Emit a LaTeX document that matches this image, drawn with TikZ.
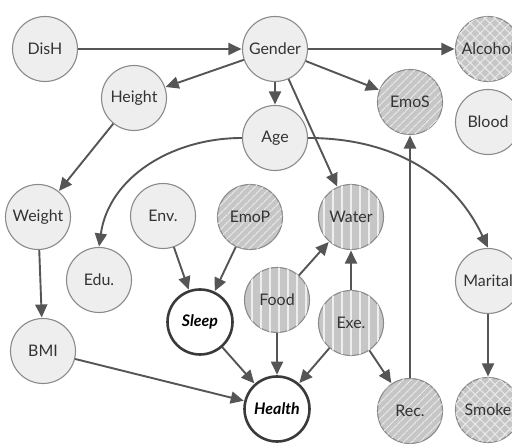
\documentclass[tikz,border=0pt]{standalone}
\usepackage{fontspec}
\setmainfont{Lato}
\usetikzlibrary{arrows.meta,patterns,patterns.meta}
\definecolor{rim}{HTML}{8A8A8A}
\definecolor{plainfill}{HTML}{EEEEEE}
\definecolor{hatchfill}{HTML}{C6C6C6}
\definecolor{edge}{HTML}{555555}
\definecolor{keyrim}{HTML}{3A3A3A}
\tikzset{
  var/.style={circle, draw=rim, line width=1.1bp, minimum size=65bp, inner sep=0pt,
    font=\fontsize{16}{18}\selectfont, text=black!80},
  plainvar/.style={var, fill=plainfill},
  diagvar/.style={var, fill=hatchfill,
    postaction={pattern={Lines[angle=45, distance=6bp, line width=1.2bp]}, pattern color=white!65!hatchfill}},
  vertvar/.style={var, fill=hatchfill,
    postaction={pattern={Lines[angle=90, distance=9bp, line width=1.3bp]}, pattern color=white!70!hatchfill}},
  crossvar/.style={var, fill=hatchfill,
    postaction={pattern={Hatch[angle=45, distance=7bp, line width=1.1bp]}, pattern color=white!60!hatchfill}},
  keyvar/.style={circle, draw=keyrim, line width=2.6bp, minimum size=65bp, inner sep=0pt,
    fill=white, font=\fontsize{16}{18}\selectfont\bfseries\itshape},
  link/.style={draw=edge, line width=1.9bp, -{Triangle[length=13bp, width=12bp]}, shorten >=0.5bp},
}
\begin{document}
\begin{tikzpicture}[x=1bp, y=1bp]
\useasboundingbox (0,0) rectangle (512,444);
% variables (y measured from the bottom edge)
\node[plainvar] (dish)    at (45,395)  {DisH};
\node[plainvar] (gender)  at (275,395) {Gender};
\node[crossvar] (alcohol) at (488,395) {Alcohol};
\node[plainvar] (height)  at (134,346) {Height};
\node[plainvar] (age)     at (275,306) {Age};
\node[diagvar]  (emos)    at (410,342) {EmoS};
\node[plainvar] (blood)   at (488,322) {Blood};
\node[plainvar] (weight)  at (38,227)  {Weight};
\node[plainvar] (env)     at (163,228) {Env.};
\node[diagvar]  (emop)    at (250,227) {EmoP};
\node[vertvar]  (water)   at (351,227) {Water};
\node[plainvar] (edu)     at (99,164)  {Edu.};
\node[plainvar] (marital) at (488,163) {Marital};
\node[vertvar]  (food)    at (277,144) {Food};
\node[keyvar]   (sleep)   at (200,122) {Sleep};
\node[vertvar]  (exe)     at (351,121) {Exe.};
\node[plainvar] (bmi)     at (43,93)   {BMI};
\node[keyvar]   (health)  at (277,35)  {Health};
\node[diagvar]  (rec)     at (410,33)  {Rec.};
\node[crossvar] (smoke)   at (488,34)  {Smoke};
% dependencies
\draw[link] (dish) -- (gender);
\draw[link] (gender) -- (alcohol);
\draw[link] (gender) -- (height);
\draw[link] (gender) -- (age);
\draw[link] (gender) -- (emos);
\draw[link] (gender) -- (water);
\draw[link] (height) -- (weight);
\draw[link] (weight) -- (bmi);
\draw[link] (bmi) -- (health);
\draw[link] (age.west) to[out=180, in=82] (edu.north);
\draw[link] (age.east) to[out=0, in=115] (marital.north);
\draw[link] (env) -- (sleep);
\draw[link] (emop) -- (sleep);
\draw[link] (sleep) -- (health);
\draw[link] (food) -- (water);
\draw[link] (food) -- (health);
\draw[link] (exe) -- (water);
\draw[link] (exe) -- (health);
\draw[link] (exe) -- (rec);
\draw[link] (rec.north) -- (emos.south);
\draw[link] (marital) -- (smoke);
\end{tikzpicture}
\end{document}
